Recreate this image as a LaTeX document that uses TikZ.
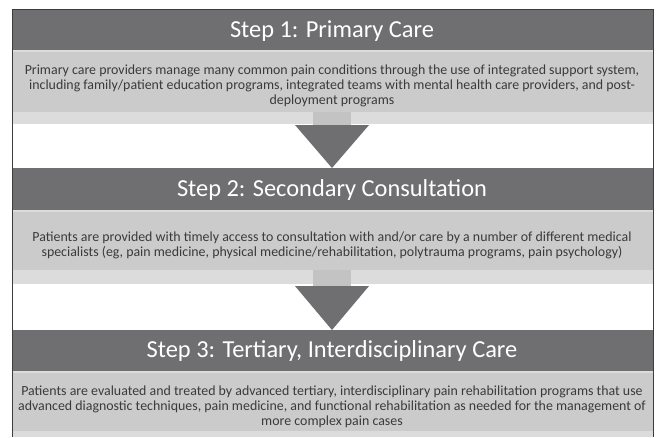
\documentclass[tikz,border=0pt]{standalone}
\usepackage{fontspec}
\setmainfont{Carlito}
\definecolor{hdr}{HTML}{6F6F71}
\definecolor{bodyc}{HTML}{CBCBCB}
\definecolor{stripc}{HTML}{DCDCDC}
\definecolor{shaftc}{HTML}{C3C3C3}
\definecolor{txt}{HTML}{3A3A3A}
\definecolor{framec}{HTML}{3C3C3C}
\tikzset{
  hdrtext/.style={text=white, font=\fontsize{24.4}{28}\selectfont, inner sep=0pt},
  bodytext/.style={text=txt, font=\fontsize{13.9}{15}\selectfont, align=center, inner sep=0pt},
  hiline/.style={draw=stripc, line width=1.5pt},
}
\begin{document}
\begin{tikzpicture}[x=1pt,y=-1pt]
\useasboundingbox (0,0) rectangle (660,437);
\fill[white] (0,0) rectangle (660,437);
% Step 1
\fill[hdr] (12,9) rectangle (653,50);
\fill[bodyc] (12,50) rectangle (653,112);
\draw[hiline] (12,51) -- (653,51);
\fill[stripc] (12,112) rectangle (313,124);
\fill[stripc] (351,112) rectangle (653,124);
\fill[shaftc] (313,112) rectangle (351,125);
\coordinate (a1l) at (295,125);
\coordinate (a1r) at (369,125);
\coordinate (a1t) at (332,168);
\fill[hdr] (a1l) -- (a1r) -- (a1t) -- cycle;
\node[hdrtext] (h1) at (332,31) {Step 1: Primary Care};
\node[bodytext] (b1) at (332,86) {Primary care providers manage many common pain conditions through the use of integrated support system,\\including family/patient education programs, integrated teams with mental health care providers, and post-\\deployment programs};
% Step 2
\fill[hdr] (12,168) rectangle (653,210);
\fill[bodyc] (12,210) rectangle (653,270);
\draw[hiline] (12,211) -- (653,211);
\fill[stripc] (12,270) rectangle (313,284);
\fill[stripc] (351,270) rectangle (653,284);
\fill[shaftc] (313,270) rectangle (351,286);
\coordinate (a2l) at (295,286);
\coordinate (a2r) at (369,286);
\coordinate (a2t) at (332,330);
\fill[hdr] (a2l) -- (a2r) -- (a2t) -- cycle;
\node[hdrtext] (h2) at (332,190) {Step 2: Secondary Consultation};
\node[bodytext] (b2) at (332,245) {Patients are provided with timely access to consultation with and/or care by a number of different medical\\specialists (eg, pain medicine, physical medicine/rehabilitation, polytrauma programs, pain psychology)};
% Step 3
\fill[hdr] (12,330) rectangle (653,371);
\fill[bodyc] (12,371) rectangle (653,431);
\draw[hiline] (12,372) -- (653,372);
\fill[stripc] (12,431) rectangle (653,437);
\node[hdrtext] (h3) at (332,351) {Step 3: Tertiary, Interdisciplinary Care};
\node[bodytext] (b3) at (332,407) {Patients are evaluated and treated by advanced tertiary, interdisciplinary pain rehabilitation programs that use\\advanced diagnostic techniques, pain medicine, and functional rehabilitation as needed for the management of\\more complex pain cases};
% frame
\draw[framec, line width=1pt] (12,437) -- (12,9) -- (653,9) -- (653,437);
\end{tikzpicture}
\end{document}
